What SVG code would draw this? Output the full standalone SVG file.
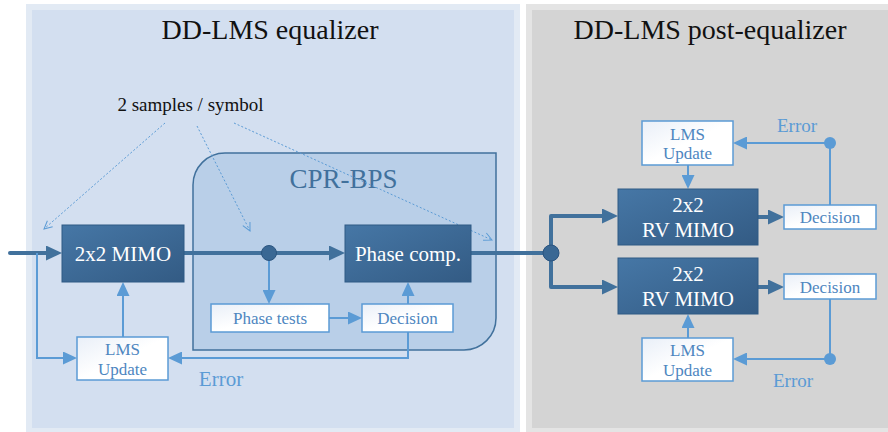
<svg xmlns="http://www.w3.org/2000/svg" width="888" height="432" viewBox="0 0 888 432">
<defs>
<linearGradient id="gDark" x1="0" y1="0" x2="1" y2="1">
<stop offset="0" stop-color="#4677a6"/>
<stop offset="1" stop-color="#335b84"/>
</linearGradient>
<linearGradient id="gWhite" x1="0" y1="0" x2="1" y2="1">
<stop offset="0" stop-color="#e9eff8"/>
<stop offset="0.5" stop-color="#ffffff"/>
<stop offset="1" stop-color="#ffffff"/>
</linearGradient>
<marker id="ad" markerUnits="userSpaceOnUse" markerWidth="16" markerHeight="15" viewBox="0 0 16 15" refX="1" refY="7.5" orient="auto">
<path d="M0,0 L16,7.5 L0,15 Z" fill="#41719c"/>
</marker>
<marker id="al" markerUnits="userSpaceOnUse" markerWidth="14" markerHeight="13" viewBox="0 0 14 13" refX="1" refY="6.5" orient="auto">
<path d="M0,0 L14,6.5 L0,13 Z" fill="#5b9bd5"/>
</marker>
<marker id="ao" markerUnits="userSpaceOnUse" markerWidth="12" markerHeight="12" viewBox="-10 -6 12 12" refX="0" refY="0" orient="auto">
<path d="M-8,-4 L0,0 L-8,4" fill="none" stroke="#5b9bd5" stroke-width="1"/>
</marker>
</defs>
<style>
.t{font-family:"Liberation Serif","Times New Roman",serif;}
.title{font-size:28px;fill:#111111;text-anchor:middle;}
.dark rect{fill:url(#gDark);stroke:#2f5a84;stroke-width:1;}
.dark text{font-size:21px;fill:#ffffff;text-anchor:middle;}
.wb rect{fill:url(#gWhite);stroke:#5b9bd5;stroke-width:1.5;}
.wb text{font-size:17px;fill:#4e86bf;text-anchor:middle;}
.thick{fill:none;stroke:#41719c;stroke-width:4;stroke-linejoin:round;}
.thin{fill:none;stroke:#5b9bd5;stroke-width:2;stroke-linejoin:miter;}
.dot{fill:none;stroke:#5b9bd5;stroke-width:1;stroke-dasharray:2 2;}
.err{fill:#5b9bd5;text-anchor:middle;}
</style>
<rect width="888" height="432" fill="#ffffff"/>
<g id="panel-left">
<rect x="26" y="4" width="494" height="428" fill="#e2eaf4"/>
<rect x="32" y="10" width="482" height="418" fill="#d3dff0"/>
<text class="t title" x="270" y="39">DD-LMS equalizer</text>
</g>
<g id="panel-right">
<rect x="526" y="4" width="362" height="428" fill="#e4e4e4"/>
<rect x="532" y="10" width="356" height="418" fill="#d4d4d4"/>
<text class="t title" x="710" y="39">DD-LMS post-equalizer</text>
</g>
<g id="cpr-bps">
<path d="M225,153 H496 V318 A32,32 0 0 1 464,350 H193 V185 A32,32 0 0 1 225,153 Z" fill="#b9cfe8" stroke="#41719c" stroke-width="1.5"/>
<text class="t" x="343.5" y="188" font-size="27" fill="#41719c" text-anchor="middle">CPR-BPS</text>
</g>
<text id="samples-label" class="t" x="190.5" y="111" font-size="19" fill="#111111" text-anchor="middle">2 samples / symbol</text>
<g id="connectors">
<path class="dot" d="M165,123 L44,229" marker-end="url(#ao)"/>
<path class="dot" d="M197,126 L250,231" marker-end="url(#ao)"/>
<path class="dot" d="M234,123 L492,240" marker-end="url(#ao)"/>
<path class="thick" d="M10,253 H47" stroke-linecap="round" marker-end="url(#ad)"/>
<path class="thick" d="M184,253 H330" marker-end="url(#ad)"/>
<path class="thick" d="M471,253 H551"/>
<path class="thick" d="M551,253 V216 H603" marker-end="url(#ad)"/>
<path class="thick" d="M551,253 V287 H603" marker-end="url(#ad)"/>
<path class="thick" d="M758,217 H769" marker-end="url(#ad)"/>
<path class="thick" d="M758,287 H769" marker-end="url(#ad)"/>
<path class="thin" d="M269,253 V291" marker-end="url(#al)"/>
<path class="thin" d="M329,318 H349" marker-end="url(#al)"/>
<path class="thin" d="M408,304 V295" marker-end="url(#al)"/>
<path class="thin" d="M408,332 V358 H181" marker-end="url(#al)"/>
<path class="thin" d="M123,337 V295" marker-end="url(#al)"/>
<path class="thin" d="M37,253 V358 H64" marker-end="url(#al)"/>
<path class="thin" d="M830,205 V143 H746" marker-end="url(#al)"/>
<path class="thin" d="M688,165 V176" marker-end="url(#al)"/>
<path class="thin" d="M830,299 V359 H746" marker-end="url(#al)"/>
<path class="thin" d="M688,338 V327" marker-end="url(#al)"/>
<circle cx="269" cy="253" r="7.5" fill="#3a6894" stroke="#2b5580" stroke-width="1"/>
<circle cx="551" cy="253" r="8" fill="#3a6894" stroke="#2b5580" stroke-width="1"/>
<circle cx="830" cy="143" r="6" fill="#5b9bd5"/>
<circle cx="830" cy="359" r="6" fill="#5b9bd5"/>
<text class="t err" x="221" y="386" font-size="21">Error</text>
<text class="t err" x="797" y="132" font-size="19">Error</text>
<text class="t err" x="793" y="387" font-size="19">Error</text>
</g>
<g id="mimo" class="dark t">
<rect x="62" y="225" width="122" height="57"/>
<text x="123" y="261">2x2 MIMO</text>
</g>
<g id="phase-comp" class="dark t">
<rect x="345" y="225" width="126" height="57"/>
<text x="408" y="261">Phase comp.</text>
</g>
<g id="phase-tests" class="wb t">
<rect x="211" y="304" width="118" height="28"/>
<text x="270" y="324">Phase tests</text>
</g>
<g id="decision-cpr" class="wb t">
<rect x="362" y="304" width="91" height="28"/>
<text x="407.5" y="324">Decision</text>
</g>
<g id="lms-left" class="wb t">
<rect x="77" y="337" width="91" height="43"/>
<text x="122.5" y="355">LMS</text>
<text x="122.5" y="375">Update</text>
</g>
<g id="rv-mimo-top" class="dark t">
<rect x="618" y="189" width="140" height="56"/>
<text x="688" y="212">2x2</text>
<text x="688" y="237">RV MIMO</text>
</g>
<g id="rv-mimo-bottom" class="dark t">
<rect x="618" y="258" width="140" height="56"/>
<text x="688" y="281">2x2</text>
<text x="688" y="306">RV MIMO</text>
</g>
<g id="decision-top" class="wb t">
<rect x="784" y="205" width="92" height="24"/>
<text x="830" y="223">Decision</text>
</g>
<g id="decision-bottom" class="wb t">
<rect x="784" y="274" width="92" height="25"/>
<text x="830" y="293">Decision</text>
</g>
<g id="lms-top" class="wb t">
<rect x="642" y="121" width="91" height="44"/>
<text x="687.5" y="140">LMS</text>
<text x="687.5" y="159">Update</text>
</g>
<g id="lms-bottom" class="wb t">
<rect x="642" y="338" width="91" height="43"/>
<text x="687.5" y="356">LMS</text>
<text x="687.5" y="376">Update</text>
</g>
</svg>
